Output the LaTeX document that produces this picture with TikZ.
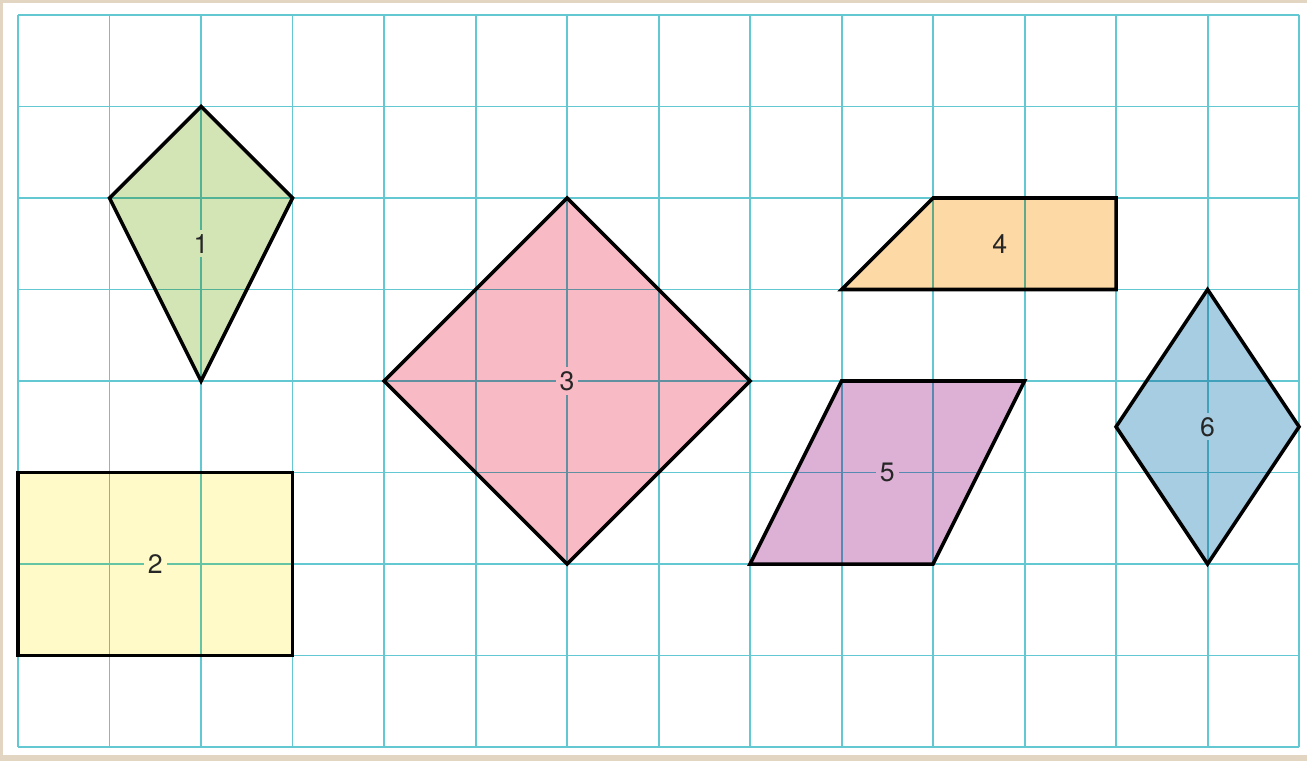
\documentclass[tikz,border=0pt]{standalone}
\usepackage{fontspec}
\setmainfont{TeX Gyre Heros}
\definecolor{paper}{RGB}{226,214,194}
\definecolor{gridc}{RGB}{100,200,210}
\definecolor{cgreen}{RGB}{211,228,181}
\definecolor{cyellow}{RGB}{255,250,200}
\definecolor{cpink}{RGB}{248,186,196}
\definecolor{corange}{RGB}{252,217,165}
\definecolor{cpurple}{RGB}{221,176,214}
\definecolor{cblue}{RGB}{167,205,227}
\tikzset{
  outline/.style={draw=black, line width=1.1pt, line join=miter},
  lbl/.style={fill=#1, inner sep=1.2pt, font=\fontsize{8.3}{9}\selectfont, text=black!85},
  gridline/.style={draw=gridc, line width=0.6pt}
}
\begin{document}
\begin{tikzpicture}
\useasboundingbox (-0.197,-0.153) rectangle (14.087,8.164);
\fill[paper] (-0.197,-0.153) rectangle (14.087,8.164);
\fill[white] (-0.16,-0.087) rectangle (14.087,8.131);
% fills
\fill[cgreen] (2,7) -- (3,6) -- (2,4) -- (1,6) -- cycle;
\fill[cyellow] (0,1) rectangle (3,3);
\fill[cpink] (6,6) -- (8,4) -- (6,2) -- (4,4) -- cycle;
\fill[corange] (9,5) -- (10,6) -- (12,6) -- (12,5) -- cycle;
\fill[cpurple] (8,2) -- (9,4) -- (11,4) -- (10,2) -- cycle;
\fill[cblue] (13,5) -- (14,3.5) -- (13,2) -- (12,3.5) -- cycle;
% grid
\begin{scope}[blend mode=multiply]
\draw[gridline] (0,0) grid (14,8);
\end{scope}
% outlines
\draw[outline] (2,7) -- (3,6) -- (2,4) -- (1,6) -- cycle;
\draw[outline] (0,1) rectangle (3,3);
\draw[outline] (6,6) -- (8,4) -- (6,2) -- (4,4) -- cycle;
\draw[outline] (9,5) -- (10,6) -- (12,6) -- (12,5) -- cycle;
\draw[outline] (8,2) -- (9,4) -- (11,4) -- (10,2) -- cycle;
\draw[outline] (13,5) -- (14,3.5) -- (13,2) -- (12,3.5) -- cycle;
% labels
\node[lbl=cgreen] (l1) at (2,5.5) {1};
\node[lbl=cyellow] (l2) at (1.5,2) {2};
\node[lbl=cpink] (l3) at (6,4) {3};
\node[lbl=corange] (l4) at (10.73,5.5) {4};
\node[lbl=cpurple] (l5) at (9.5,3) {5};
\node[lbl=cblue] (l6) at (13,3.5) {6};
\end{tikzpicture}
\end{document}
